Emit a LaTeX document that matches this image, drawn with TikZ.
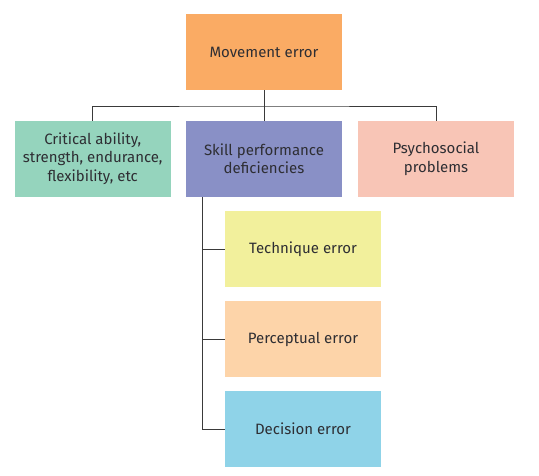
\documentclass[tikz,border=0pt]{standalone}
\usepackage{fontspec}
\setmainfont{Fira Sans}
\definecolor{cMove}{HTML}{FAAB64}
\definecolor{cCrit}{HTML}{95D4BD}
\definecolor{cSkill}{HTML}{8990C6}
\definecolor{cPsy}{HTML}{F8C5B6}
\definecolor{cTech}{HTML}{F2F09C}
\definecolor{cPerc}{HTML}{FDD4A9}
\definecolor{cDec}{HTML}{8FD3E8}
\definecolor{cText}{HTML}{2E2E33}
\definecolor{cLine}{HTML}{3A3A3A}
\tikzset{
  box/.style={rectangle, minimum width=156pt, minimum height=76pt, inner sep=0pt,
    align=center, text=cText, font=\fontsize{15}{18.5}\selectfont},
  link/.style={draw=cLine, line width=1pt}
}
\begin{document}
\begin{tikzpicture}[x=1pt,y=-1pt]
\useasboundingbox (0,0) rectangle (539,475);
\node[box, fill=cMove] (mv) at (264,52) {Movement error};
\node[box, fill=cCrit] (crit) at (92.7,158.7) {Critical ability,\\strength, endurance,\\flexibility, etc};
\node[box, fill=cSkill] (sk) at (264,158.7) {Skill performance\\deficiencies};
\node[box, fill=cPsy] (psy) at (436,158.7) {Psychosocial\\problems};
\node[box, fill=cTech] (tech) at (303,249) {Technique error};
\node[box, fill=cPerc] (perc) at (303,339) {Perceptual error};
\node[box, fill=cDec] (dec) at (303,429) {Decision error};
\coordinate (bus) at (264,106);
\coordinate (tk) at (202,197);
\draw[link] (mv.south) -- (sk.north);
\draw[link] (crit.north) |- (bus) -| (psy.north);
\draw[link] (tk) |- (dec.west);
\draw[link] (tk |- tech.west) -- (tech.west);
\draw[link] (tk |- perc.west) -- (perc.west);
\end{tikzpicture}
\end{document}
